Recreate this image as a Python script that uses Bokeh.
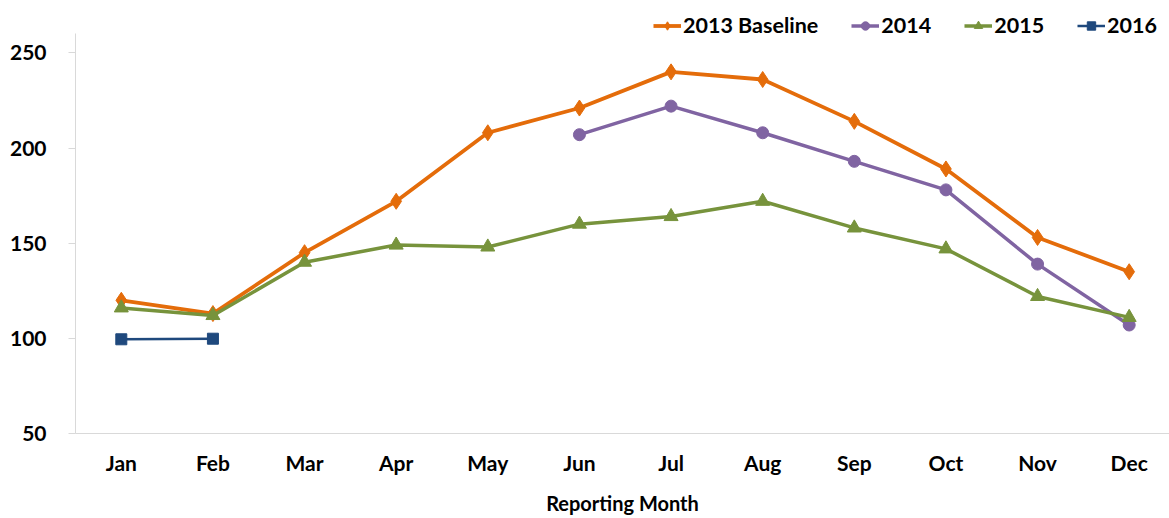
from bokeh.plotting import figure
from bokeh.models import Legend, LegendItem, Range1d, FixedTicker
from bokeh.embed import file_html
from bokeh.resources import INLINE

months = ["Jan", "Feb", "Mar", "Apr", "May", "Jun", "Jul", "Aug", "Sep", "Oct", "Nov", "Dec"]
baseline_2013 = [120, 113, 145, 172, 208, 221, 240, 236, 214, 189, 153, 135]
months_2014 = ["Jun", "Jul", "Aug", "Sep", "Oct", "Nov", "Dec"]
values_2014 = [207, 222, 208, 193, 178, 139, 107]
values_2015 = [116, 112, 140, 149, 148, 160, 164, 172, 158, 147, 122, 111]
months_2016 = ["Jan", "Feb"]
values_2016 = [99.5, 99.8]
y_ticks = [50, 100, 150, 200, 250]

FONT = "Lato"


def pos(labels):
    return [months.index(m) for m in labels]


p = figure(width=1169, height=518, x_range=Range1d(-0.5, 11.44),
           y_range=Range1d(50, 277.5), output_backend="svg", toolbar_location=None,
           min_border_left=75, min_border_right=0, min_border_bottom=85, min_border_top=0)
p.outline_line_color = None
p.xgrid.grid_line_color = None
p.ygrid.grid_line_color = None

series = [
    ("2013 Baseline", months, baseline_2013, "#E46C0A", "diamond", 16, 3.8),
    ("2014", months_2014, values_2014, "#8064A2", "circle", 12, 3.5),
    ("2015", months, values_2015, "#77933C", "triangle", 14, 3.5),
    ("2016", months_2016, values_2016, "#1F497D", "square", 11, 2.5),
]
items = []
for label, xs, ys, color, marker, size, lw in series:
    xp = pos(xs)
    r1 = p.line(xp, ys, line_color=color, line_width=lw)
    r2 = p.scatter(xp, ys, marker=marker, size=size, fill_color=color, line_color=color)
    items.append(LegendItem(label=label, renderers=[r1, r2]))

legend = Legend(items=items, orientation="horizontal", location="top_right",
                border_line_color=None, background_fill_alpha=0,
                label_text_font=FONT, label_text_font_style="bold", label_text_font_size="21.5px",
                label_text_color="black",
                glyph_width=28, glyph_height=21, label_standoff=2, spacing=33,
                padding=0, margin=12, label_height=21)
p.add_layout(legend, "center")

p.yaxis.ticker = FixedTicker(ticks=y_ticks)
p.yaxis.bounds = (50, 260)
p.yaxis.axis_line_color = "#D9D9D9"
p.yaxis.major_tick_line_color = "#D9D9D9"
p.yaxis.major_tick_out = 7
p.yaxis.major_tick_in = 0
p.yaxis.minor_tick_line_color = None
p.yaxis.major_label_standoff = 22
p.yaxis.major_label_text_font = FONT
p.yaxis.major_label_text_font_style = "bold"
p.yaxis.major_label_text_font_size = "21px"
p.yaxis.major_label_text_color = "black"

p.xaxis.ticker = FixedTicker(ticks=list(range(len(months))))
p.xaxis.major_label_overrides = {i: m for i, m in enumerate(months)}
p.xaxis.axis_line_color = "#D9D9D9"
p.xaxis.major_tick_line_color = None
p.xaxis.minor_tick_line_color = None
p.xaxis.major_tick_out = 0
p.xaxis.major_tick_in = 0
p.xaxis.major_label_standoff = 16
p.xaxis.major_label_text_font = FONT
p.xaxis.major_label_text_font_style = "bold"
p.xaxis.major_label_text_font_size = "21px"
p.xaxis.major_label_text_color = "black"
p.xaxis.axis_label = "Reporting Month"
p.xaxis.axis_label_text_font = FONT
p.xaxis.axis_label_text_font_style = "bold"
p.xaxis.axis_label_text_font_size = "20px"
p.xaxis.axis_label_text_color = "black"
p.xaxis.axis_label_standoff = 13

open("out.html", "w").write(file_html(p, INLINE))
